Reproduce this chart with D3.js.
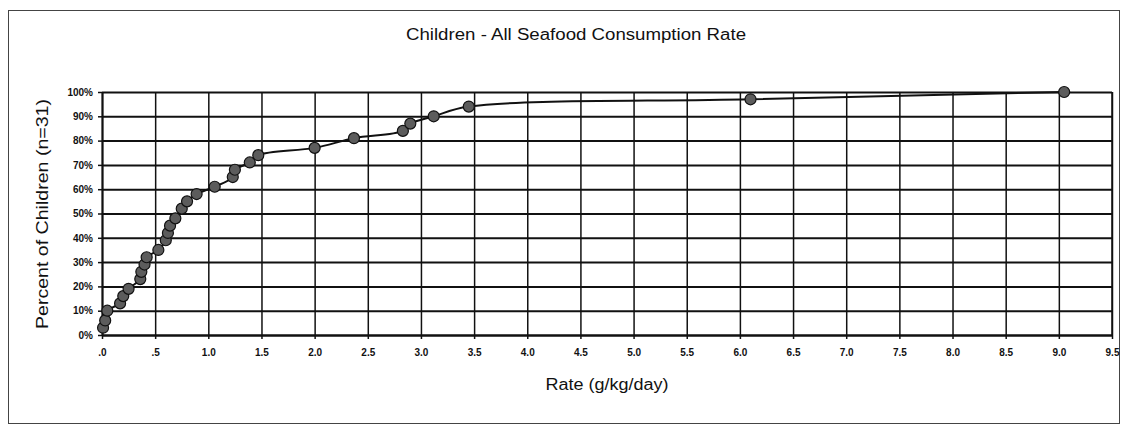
<!DOCTYPE html>
<html>
<head>
<meta charset="utf-8">
<script src="https://cdn.jsdelivr.net/npm/d3@7"></script>
<style>
  body { margin: 0; background: #fff; }
  text { font-family: "Liberation Sans", Arial, sans-serif; fill: #111; }
</style>
</head>
<body>
<div id="chart"></div>
<script>
// seafood consumption rate per child (g/kg/day), sorted
var rates = [0.01, 0.03, 0.05, 0.17, 0.20, 0.25, 0.36, 0.37, 0.40, 0.42,
             0.53, 0.60, 0.62, 0.64, 0.69, 0.75, 0.80, 0.89, 1.06, 1.23,
             1.25, 1.39, 1.47, 2.00, 2.37, 2.83, 2.90, 3.12, 3.45, 6.10, 9.05];
// cumulative percent of children
var percents = [3, 6, 10, 13, 16, 19, 23, 26, 29, 32,
                35, 39, 42, 45, 48, 52, 55, 58, 61, 65,
                68, 71, 74, 77, 81, 84, 87, 90, 94, 97, 100];
var xTicks = [0, 0.5, 1, 1.5, 2, 2.5, 3, 3.5, 4, 4.5, 5, 5.5, 6, 6.5, 7, 7.5, 8, 8.5, 9, 9.5];
var yTicks = [0, 10, 20, 30, 40, 50, 60, 70, 80, 90, 100];

var width = 1128, height = 426;
var plotLeft = 102, plotRight = 1112, plotTop = 92, plotBottom = 335;

var svg = d3.select("#chart").append("svg")
    .attr("width", width)
    .attr("height", height);

// outer frame
svg.append("rect")
    .attr("x", 8.5).attr("y", 10.5)
    .attr("width", 1111).attr("height", 413)
    .attr("fill", "none")
    .attr("stroke", "#444")
    .attr("stroke-width", 1);

var x = d3.scaleLinear().domain([0, 9.5]).range([plotLeft, plotRight]);
var y = d3.scaleLinear().domain([0, 100]).range([plotBottom, plotTop]);

// grid
svg.append("g")
    .attr("class", "xgrid")
    .attr("transform", "translate(0," + plotBottom + ")")
    .call(d3.axisBottom(x).tickValues(xTicks).tickSizeInner(-(plotBottom - plotTop)).tickSizeOuter(0).tickFormat(""))
    .call(function(g){ g.select(".domain").remove(); })
    .selectAll("line").attr("stroke", "#111").attr("stroke-width", 1.5);

svg.append("g")
    .attr("class", "ygrid")
    .attr("transform", "translate(" + plotLeft + ",0)")
    .call(d3.axisLeft(y).tickValues(yTicks).tickSizeInner(-(plotRight - plotLeft)).tickSizeOuter(0).tickFormat(""))
    .call(function(g){ g.select(".domain").remove(); })
    .selectAll("line").attr("stroke", "#111").attr("stroke-width", 2);

// axes with small outward ticks
var fmtX = function(d){
    var s = d3.format(".1f")(d);
    return d < 1 ? s.replace(/^0/, "") : s;
};
var xAxis = svg.append("g")
    .attr("transform", "translate(0," + plotBottom + ")")
    .call(d3.axisBottom(x).tickValues(xTicks).tickSize(4).tickSizeOuter(0).tickFormat(fmtX).tickPadding(10));
xAxis.select(".domain").attr("stroke", "#111").attr("stroke-width", 2);
xAxis.selectAll("line").attr("stroke", "#111").attr("stroke-width", 1.5);
xAxis.selectAll("text")
    .attr("font-size", 10)
    .attr("font-weight", "bold")
    .attr("fill", "#111");

var yAxis = svg.append("g")
    .attr("transform", "translate(" + plotLeft + ",0)")
    .call(d3.axisLeft(y).tickValues(yTicks).tickSize(4).tickSizeOuter(0)
        .tickFormat(function(d){ return d + "%"; }).tickPadding(5));
yAxis.select(".domain").attr("stroke", "#111").attr("stroke-width", 2);
yAxis.selectAll("line").attr("stroke", "#111").attr("stroke-width", 1.5);
yAxis.selectAll("text")
    .attr("font-size", 10)
    .attr("font-weight", "bold")
    .attr("fill", "#111");

// right edge of plot
svg.append("line")
    .attr("x1", plotRight).attr("x2", plotRight)
    .attr("y1", plotTop).attr("y2", plotBottom)
    .attr("stroke", "#111").attr("stroke-width", 1.5);

// data line + markers
var pts = rates.map(function(r, i){ return [r, percents[i]]; });

var line = d3.line()
    .x(function(d){ return x(d[0]); })
    .y(function(d){ return y(d[1]); })
    .curve(d3.curveCatmullRom.alpha(0.5));

svg.append("path")
    .datum(pts)
    .attr("d", line)
    .attr("fill", "none")
    .attr("stroke", "#111")
    .attr("stroke-width", 2);

svg.selectAll("circle.pt")
    .data(pts)
    .enter()
    .append("circle")
    .attr("class", "pt")
    .attr("cx", function(d){ return x(d[0]); })
    .attr("cy", function(d){ return y(d[1]); })
    .attr("r", 5.5)
    .attr("fill", "#5c5c5c")
    .attr("stroke", "#111")
    .attr("stroke-width", 1.2);

// titles
svg.append("text")
    .attr("x", 576).attr("y", 40)
    .attr("text-anchor", "middle")
    .attr("font-size", 16)
    .attr("textLength", 340)
    .attr("lengthAdjust", "spacingAndGlyphs")
    .text("Children - All Seafood Consumption Rate");

svg.append("text")
    .attr("x", 607).attr("y", 390)
    .attr("text-anchor", "middle")
    .attr("font-size", 16)
    .attr("textLength", 123)
    .attr("lengthAdjust", "spacingAndGlyphs")
    .text("Rate (g/kg/day)");

svg.append("text")
    .attr("transform", "translate(48,214) rotate(-90)")
    .attr("text-anchor", "middle")
    .attr("font-size", 16)
    .attr("textLength", 230)
    .attr("lengthAdjust", "spacingAndGlyphs")
    .text("Percent of Children (n=31)");
</script>
</body>
</html>
